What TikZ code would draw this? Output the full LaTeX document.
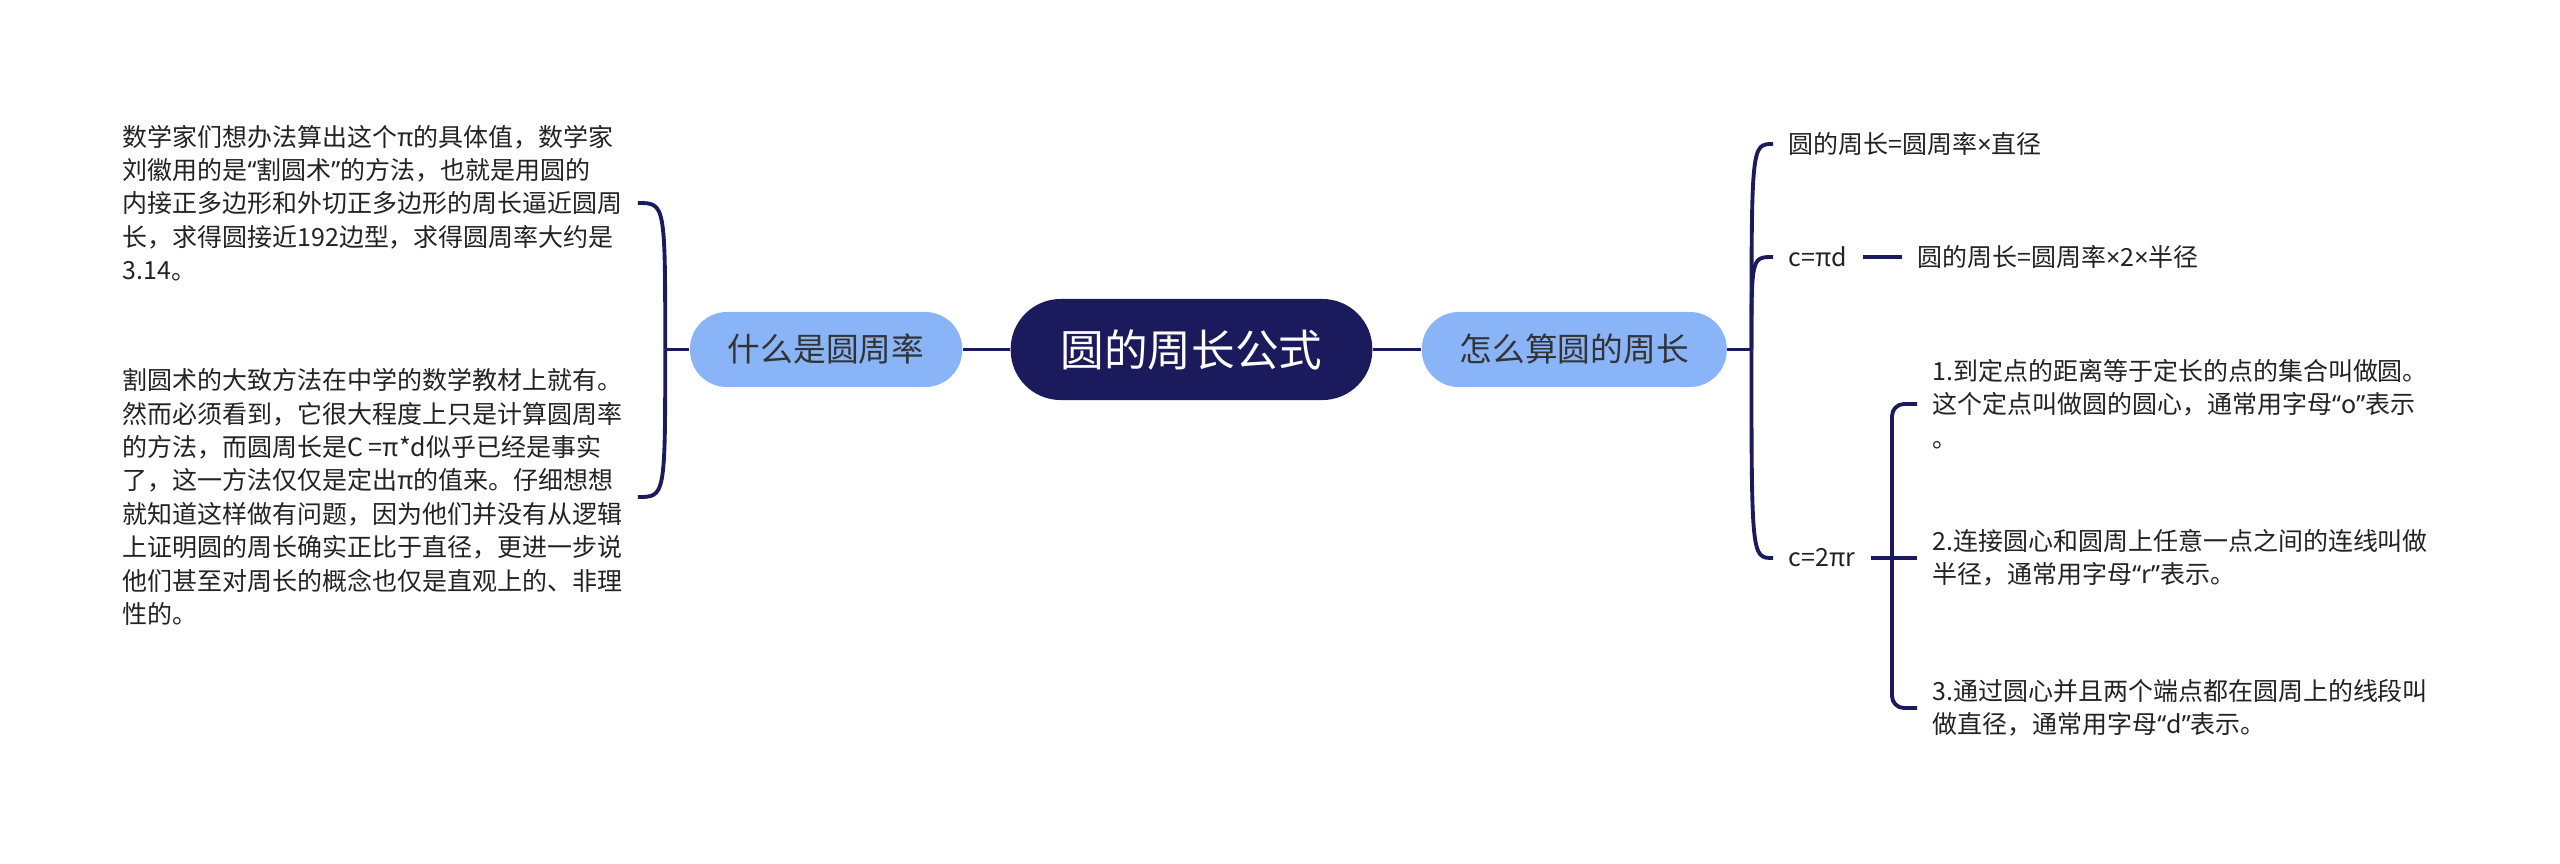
\documentclass[tikz,border=0pt]{standalone}
\usepackage{fontspec}
\setmainfont{Noto Sans CJK SC}
\newfontfamily\latinfont{Noto Sans}
\newcommand\lquo{{\latinfont “}}
\newcommand\rquo{{\latinfont ”}}
\newcommand\mul{{\latinfont ×}}
\usepackage{xcolor}
\usetikzlibrary{positioning}
\definecolor{navy}{HTML}{1B1A5C}
\definecolor{skyblue}{HTML}{8AB4F8}
\definecolor{ink}{HTML}{222222}

\begin{document}
\begin{tikzpicture}[
    x=0.01cm, y=-0.01cm,
    rootbox/.style={fill=navy, text=white, rounded corners=0.5cm, minimum height=1.01cm, inner xsep=0.5cm, font=\fontsize{12.4pt}{14pt}\selectfont},
    topicbox/.style={fill=skyblue, text=black!80, rounded corners=0.37cm, minimum height=0.75cm, inner xsep=0.38cm, font=\fontsize{9.3pt}{11pt}\selectfont},
    note/.style={align=left, text=ink, inner xsep=0.15cm, inner ysep=0.05cm, font=\fontsize{7.1pt}{9.5pt}\selectfont},
    link/.style={draw=navy, line width=1.1pt}
  ]
    \useasboundingbox (0,0) rectangle (2560,863);
    \node[rootbox] (root) at (1191.5,349.5) {圆的周长公式};
    \node[topicbox, left=0.47cm of root] (what) {什么是圆周率};
    \node[topicbox, right=0.48cm of root] (how) {怎么算圆的周长};
    \coordinate[left=0.24cm of what] (wj);
    \coordinate[right=0.24cm of how] (hj);
    \node[note, anchor=west] (liuhui) at (107,203) {数学家们想办法算出这个π的具体值，数学家\\刘徽用的是\lquo 割圆术\rquo 的方法，也就是用圆的\\内接正多边形和外切正多边形的周长逼近圆周\\长，求得圆接近192边型，求得圆周率大约是\\3.14。};
    \node[note, anchor=west] (proof) at (107,497) {割圆术的大致方法在中学的数学教材上就有。\\然而必须看到，它很大程度上只是计算圆周率\\的方法，而圆周长是C =π*d似乎已经是事实\\了，这一方法仅仅是定出π的值来。仔细想想\\就知道这样做有问题，因为他们并没有从逻辑\\上证明圆的周长确实正比于直径，更进一步说\\他们甚至对周长的概念也仅是直观上的、非理\\性的。};
    \node[note, anchor=west] (dia) at (1773,144) {圆的周长=圆周率\mul 直径};
    \node[note, anchor=west] (pid) at (1773,257) {c=πd};
    \node[note, right=0.39cm of pid] (rad) {圆的周长=圆周率\mul 2\mul 半径};
    \node[note, anchor=west] (twopr) at (1773,558) {c=2πr};
    \coordinate (sj) at (1892,558);
    \node[note, anchor=west] (def1) at (1917,404) {1.到定点的距离等于定长的点的集合叫做圆。\\这个定点叫做圆的圆心，通常用字母\lquo o\rquo 表示\\。};
    \node[note, anchor=west] (def2) at (1917,558) {2.连接圆心和圆周上任意一点之间的连线叫做\\半径，通常用字母\lquo r\rquo 表示。};
    \node[note, anchor=west] (def3) at (1917,708) {3.通过圆心并且两个端点都在圆周上的线段叫\\做直径，通常用字母\lquo d\rquo 表示。};
    \draw[link] (root) -- (what);
    \draw[link] (root) -- (how);
    \draw[link] (what) -- (wj);
    \draw[link] (how) -- (hj);
    \draw[link] (wj) .. controls (wj |- liuhui.east) .. (liuhui.east);
    \draw[link] (wj) .. controls (wj |- proof.east) .. (proof.east);
    \draw[link] (hj) .. controls (hj |- dia.west) .. (dia.west);
    \draw[link] (hj) .. controls (hj |- pid.west) .. (pid.west);
    \draw[link] (hj) .. controls (hj |- twopr.west) .. (twopr.west);
    \draw[link] (pid) -- (rad);
    \draw[link] (twopr) -- (def2);
    \draw[link, rounded corners=0.12cm] (def1.west) -| (sj) |- (def3.west);
  \end{tikzpicture}
\end{document}
